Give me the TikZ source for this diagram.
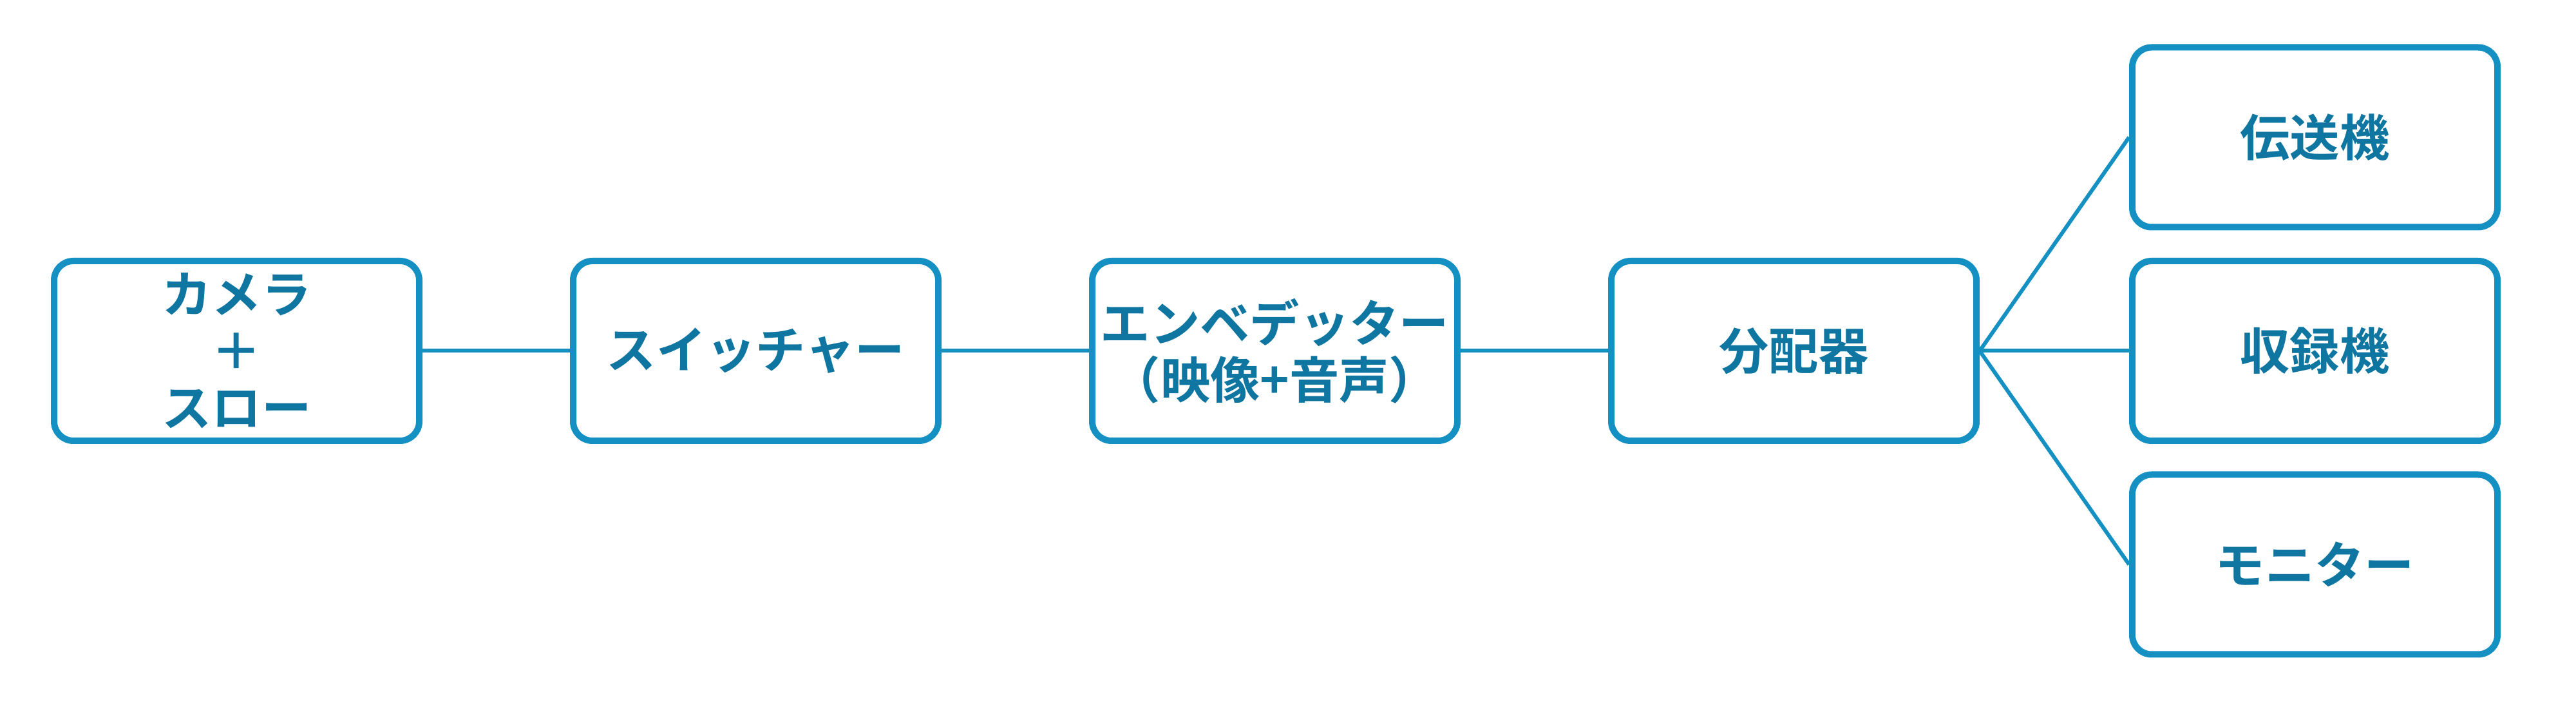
\documentclass[tikz,border=0pt]{standalone}
\usepackage{fontspec}
\newfontfamily\jp{Noto Sans CJK JP Bold}
\definecolor{bd}{HTML}{1590C3}
\definecolor{tx}{HTML}{0E76A0}
\begin{document}
\begin{tikzpicture}
\useasboundingbox (0,0) rectangle (40,10.94);
\tikzset{box/.style={draw=bd,line width=0.1cm,rounded corners=0.3cm,minimum width=5.67cm,minimum height=2.79cm,align=center,text=tx,font=\jp\fontsize{22}{25}\selectfont,fill=white},
conn/.style={draw=bd,line width=0.06cm}}
\node[box] (cam) at (3.675,5.495) {カメラ\\＋\\スロー};
\node[box] (sw) at (11.735,5.495) {スイッチャー};
\node[box] (emb) at (19.795,5.495) {エンベデッター\\（映像+音声）};
\node[box] (dist) at (27.855,5.495) {分配器};
\node[box] (tr) at (35.945,8.81) {伝送機};
\node[box] (rec) at (35.945,5.495) {収録機};
\node[box] (mon) at (35.945,2.18) {モニター};
\draw[conn] (cam.east) -- (sw.west);
\draw[conn] (sw.east) -- (emb.west);
\draw[conn] (emb.east) -- (dist.west);
\draw[conn] (dist.east) -- (tr.west);
\draw[conn] (dist.east) -- (rec.west);
\draw[conn] (dist.east) -- (mon.west);
\end{tikzpicture}
\end{document}
